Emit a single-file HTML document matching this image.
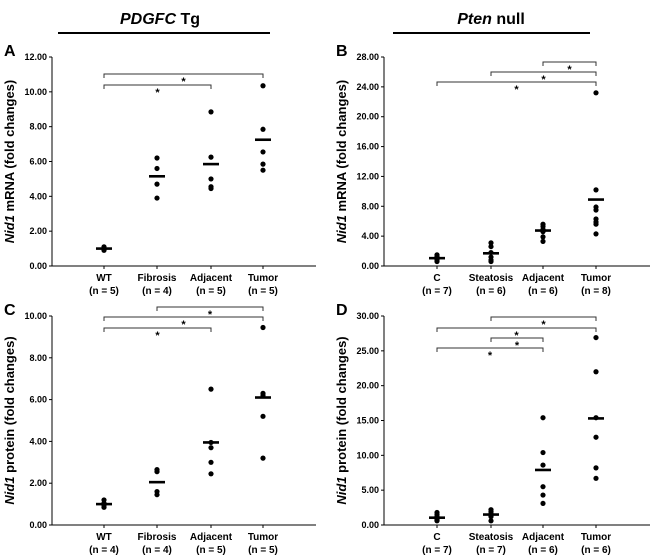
<!DOCTYPE html>
<html><head><meta charset="utf-8">
<style>
html,body{margin:0;padding:0;background:#fff;}
svg{display:block;font-family:"Liberation Sans",Arial,sans-serif;}
</style></head>
<body>
<svg id="fig" width="653" height="559" viewBox="0 0 653 559">
<g>
<text x="160" y="24" font-size="16" font-weight="bold" text-anchor="middle"><tspan font-style="italic">PDGFC</tspan> Tg</text>
<line x1="58" y1="33" x2="270" y2="33" stroke="#000" stroke-width="2"/>
</g>
<g>
<text x="491" y="24" font-size="16" font-weight="bold" text-anchor="middle"><tspan font-style="italic">Pten</tspan> null</text>
<line x1="393" y1="33" x2="590" y2="33" stroke="#000" stroke-width="2"/>
</g>
</svg>
<script>
// Panel A data
const catsA = ["WT","Fibrosis","Adjacent","Tumor"];
const nA = ["(n = 5)","(n = 4)","(n = 5)","(n = 5)"];
const ptsA = [[1.1,1.0,0.95,0.9,1.05],[6.2,5.6,4.7,3.9],[8.85,6.25,5.0,4.55,4.45],[10.35,7.85,6.55,5.85,5.5]];
const meansA = [1.0,5.15,5.85,7.25];
const ticksA = ["0.00","2.00","4.00","6.00","8.00","10.00","12.00"];
const sigA = [[0,3],[0,2]];
// Panel B data
const catsB = ["C","Steatosis","Adjacent","Tumor"];
const nB = ["(n = 7)","(n = 6)","(n = 6)","(n = 8)"];
const ptsB = [[1.5,1.3,1.1,1.0,0.8,0.6,0.9],[3.1,2.6,1.8,1.2,0.8,0.6],[5.6,5.3,4.9,4.6,3.9,3.3],[23.2,10.2,7.9,7.5,6.3,5.9,5.6,4.3]];
const meansB = [1.05,1.7,4.75,8.9];
const ticksB = ["0.00","4.00","8.00","12.00","16.00","20.00","24.00","28.00"];
const sigB = [[2,3],[1,3],[0,3]];
// Panel C data
const catsC = ["WT","Fibrosis","Adjacent","Tumor"];
const nC = ["(n = 4)","(n = 4)","(n = 5)","(n = 5)"];
const ptsC = [[1.2,1.05,0.95,0.85],[2.65,2.55,1.6,1.45],[6.5,3.95,3.7,3.0,2.45],[9.45,6.3,6.2,5.2,3.2]];
const meansC = [1.0,2.05,3.95,6.1];
const ticksC = ["0.00","2.00","4.00","6.00","8.00","10.00"];
const sigC = [[1,3],[0,3],[0,2]];
// Panel D data
const catsD = ["C","Steatosis","Adjacent","Tumor"];
const nD = ["(n = 7)","(n = 7)","(n = 6)","(n = 6)"];
const ptsD = [[1.8,1.5,1.2,1.0,0.8,0.6,0.7],[2.2,1.9,1.6,1.4,1.2,0.6,1.5],[15.4,10.4,8.6,5.5,4.3,3.1],[26.9,22.0,15.4,12.6,8.2,6.7]];
const meansD = [1.05,1.5,7.9,15.3];
const ticksD = ["0.00","5.00","10.00","15.00","20.00","25.00","30.00"];
const sigD = [[1,3],[0,3],[1,2],[0,2]];

const NS="http://www.w3.org/2000/svg";
const svg=document.getElementById('fig');
function mk(tag,attrs,parent){const e=document.createElementNS(NS,tag);for(const k in attrs)e.setAttribute(k,attrs[k]);parent.appendChild(e);return e;}

function panel(o){
  const g=mk('g',{},svg);
  
  
  const ymax=parseFloat(o.ticks[o.ticks.length-1]);
  const y=v=>o.y0-(v/ymax)*(o.y0-o.yTop);
  const x=i=>o.xs[i];
  // letter
  const L=mk('text',{x:o.ax-48,y:o.yTop-1,'font-size':16,'font-weight':'bold'},g);L.textContent=o.letter;
  
  
  // axes
  const ya=mk('line',{x1:o.ax,y1:o.yTop,x2:o.ax,y2:o.y0,stroke:'#000','stroke-width':1},g);
  
  
  const xa=mk('line',{x1:o.ax,y1:o.y0,x2:o.xEnd,y2:o.y0,stroke:'#000','stroke-width':1},g);
  
  
  o.ticks.forEach(t=>{
    const v=parseFloat(t),yy=y(v);
    mk('line',{x1:o.ax-3,y1:yy,x2:o.ax,y2:yy,stroke:'#000'},g);
    const tx=mk('text',{x:o.ax-5,y:yy+3,'font-size':9,'font-weight':'bold','text-anchor':'end'},g);tx.textContent=t;
    
    
  });
  // y title
  const cy=(o.y0+o.yTop)/2, tx0=o.ax-38;
  const tt=mk('text',{x:tx0,y:cy,'font-size':13,'font-weight':'bold','text-anchor':'middle',transform:`rotate(-90 ${tx0} ${cy})`},g);
  
  
  const t1=mk('tspan',{'font-style':'italic'},tt);t1.textContent='Nid1';
  const t2=mk('tspan',{},tt);t2.textContent=' '+o.ytitle;
  // categories
  o.cats.forEach((c,i)=>{
    mk('line',{x1:x(i),y1:o.y0,x2:x(i),y2:o.y0+3,stroke:'#000'},g);
    const a=mk('text',{x:x(i),y:o.y0+15,'font-size':10,'font-weight':'bold','text-anchor':'middle'},g);a.textContent=c;
    
    
    const b=mk('text',{x:x(i),y:o.y0+28,'font-size':10,'font-weight':'bold','text-anchor':'middle'},g);b.textContent=o.n[i];
    
    
    o.pts[i].forEach(v=>{
      const d=mk('circle',{cx:x(i),cy:y(v),r:2.6,fill:'#000'},g);
      
      
    });
    const m=mk('rect',{x:x(i)-8,y:y(o.means[i])-1.3,width:16,height:2.6,fill:'#000'},g);
    
    
  });
  // significance brackets
  o.sig.forEach((s,k)=>{
    const by=o.bY[k];
    const p=mk('path',{d:`M${x(s[0])} ${by+4}V${by}H${x(s[1])}V${by+4}`,fill:'none',stroke:'#333','stroke-width':1},g);
    
    
    const st=mk('text',{x:(x(s[0])+x(s[1]))/2,y:by+11,'font-size':11,'font-weight':'bold','text-anchor':'middle'},g);st.textContent='*';
    
    
  });
}
const xsL=[104,157,211,263], xsR=[437,491,543,596];
panel({name:'panel-a',letter:'A',ax:52,xEnd:316,y0:266,yTop:57,xs:xsL,cats:catsA,n:nA,pts:ptsA,means:meansA,ticks:ticksA,sig:sigA,bY:[74,85],ytitle:'mRNA (fold changes)'});
panel({name:'panel-b',letter:'B',ax:384,xEnd:650,y0:266,yTop:57,xs:xsR,cats:catsB,n:nB,pts:ptsB,means:meansB,ticks:ticksB,sig:sigB,bY:[62,72,82],ytitle:'mRNA (fold changes)'});
panel({name:'panel-c',letter:'C',ax:52,xEnd:316,y0:525,yTop:316,xs:xsL,cats:catsC,n:nC,pts:ptsC,means:meansC,ticks:ticksC,sig:sigC,bY:[307,317,328],ytitle:'protein (fold changes)'});
panel({name:'panel-d',letter:'D',ax:384,xEnd:650,y0:525,yTop:316,xs:xsR,cats:catsD,n:nD,pts:ptsD,means:meansD,ticks:ticksD,sig:sigD,bY:[317,328,338,348],ytitle:'protein (fold changes)'});
</script>
</body></html>
